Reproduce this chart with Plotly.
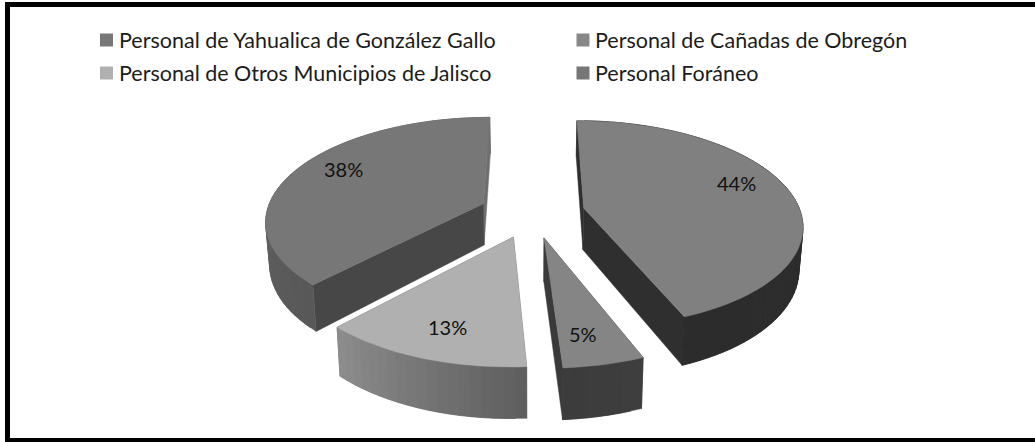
import numpy as np
import plotly.graph_objects as go

names = ["Personal de Yahualica de González Gallo", "Personal de Cañadas de Obregón",
         "Personal de Otros Municipios de Jalisco", "Personal Foráneo"]
values = [44, 5, 13, 38]
labels = ["44%", "5%", "13%", "38%"]
top_colors = ["#808080", "#858585", "#b0b0b0", "#777777"]
legend_colors = ["#777777", "#888888", "#b0b0b0", "#777777"]
radial_start = ["#2f2f2f", "#3a3a3a", "#5c5c5c", "#474747"]
radial_end = ["#2f2f2f", "#3a3a3a", "#5c5c5c", "#6e6e6e"]
# rim shading: grey level at the start and at the end of each slice's arc
rim_start = [48, 62, 95, 88]
rim_end = [44, 60, 140, 112]

# view settings of the tilted pie
CX, CY = 532.0, 212.7
RADIUS = 217.0
TILT = 0.47
PERSP = 0.0007
EXPLODE = 53.0
DEPTH = 42.0
TAPER = 0.985
LABEL_R = 0.643
label_shift = [(20, 13), (3, -20), (-10, -17), (-18, 12)]
legend_col = [106.5, 583]
legend_row = [40, 73]


def project(u, v, lower=False):
    u, v = np.asarray(u, float), np.asarray(v, float)
    s = 1.0 / (1.0 + PERSP * v)
    x = u * s
    y = CY - v * TILT * s
    if lower:
        x = x * TAPER
        y = y + DEPTH * s
    return CX + x, y


def poly(fig, x, y, color):
    fig.add_trace(go.Scatter(x=list(x) + [x[0]], y=list(y) + [y[0]], mode="lines", fill="toself",
                             fillcolor=color, line=dict(color=color, width=0.5),
                             hoverinfo="skip", showlegend=False))


fig = go.Figure()
total = sum(values)
start = 0.0
annotations = []
for i, val in enumerate(values):
    a0, a1 = start, start + val / total * 2 * np.pi
    start = a1
    mid = (a0 + a1) / 2
    ex, ey = EXPLODE * np.sin(mid), EXPLODE * np.cos(mid)
    th = np.linspace(a0, a1, max(6, int(val * 1.6)))
    ru, rv = ex + RADIUS * np.sin(th), ey + RADIUS * np.cos(th)

    # the two radial walls
    for a, wall_color in ((a1, radial_end[i]), (a0, radial_start[i])):
        eu, ev = ex + RADIUS * np.sin(a), ey + RADIUS * np.cos(a)
        tx, ty = project([ex, eu], [ey, ev])
        bx, by = project([ex, eu], [ey, ev], lower=True)
        poly(fig, [tx[0], tx[1], bx[1], bx[0]], [ty[0], ty[1], by[1], by[0]], wall_color)

    # the rim wall, in shaded strips that overlap so no seams show
    tx, ty = project(ru, rv)
    bx, by = project(ru, rv, lower=True)
    n = len(th)
    for k in range(n - 1):
        j = min(k + 2, n - 1)
        g = int(round(rim_start[i] + (rim_end[i] - rim_start[i]) * k / (n - 2)))
        poly(fig, [tx[k], tx[j], bx[j], bx[k]], [ty[k], ty[j], by[j], by[k]], f"rgb({g},{g},{g})")

    # the top face
    cx0, cy0 = project([ex], [ey])
    poly(fig, [cx0[0]] + list(tx), [cy0[0]] + list(ty), top_colors[i])

    lu = ex + RADIUS * LABEL_R * np.sin(mid)
    lv = ey + RADIUS * LABEL_R * np.cos(mid)
    lx, ly = project([lu], [lv])
    annotations.append(dict(x=lx[0], y=ly[0], text=labels[i], showarrow=False, xref="x", yref="y",
                            xshift=label_shift[i][0], yshift=label_shift[i][1],
                            font=dict(family="Lato", size=20, color="#111111")))

# legend: two rows of two entries
for idx, (n, c) in enumerate(zip(names, legend_colors)):
    lgx, lgy = legend_col[idx % 2], legend_row[idx // 2]
    fig.add_trace(go.Scatter(x=[lgx], y=[lgy], mode="markers", name=n, hoverinfo="name", showlegend=False,
                             marker=dict(symbol="square", size=13, color=c, line=dict(width=0))))
    annotations.append(dict(x=lgx + 10, y=lgy, text=n, showarrow=False, xanchor="left", xref="x", yref="y",
                            font=dict(family="Lato", size=21.5, color="#1c1c1c")))

fig.update_layout(
    width=1035, height=442, margin=dict(l=0, r=0, t=0, b=0),
    paper_bgcolor="white", plot_bgcolor="white", showlegend=False,
    xaxis=dict(visible=False, range=[0, 1035], fixedrange=True),
    yaxis=dict(visible=False, range=[442, 0], fixedrange=True),
    annotations=annotations,
    # frame: left, top and bottom only; the right side stays open as in the reference
    shapes=[dict(type="rect", xref="x", yref="y", x0=7.5, x1=1045, y0=4.5, y1=440.5,
                 line=dict(color="black", width=5), fillcolor="rgba(0,0,0,0)", layer="below")],
)
fig.write_html("out.html", config=dict(displayModeBar=False),
               post_script="document.body.style.margin='0';document.body.style.overflow='hidden';")
